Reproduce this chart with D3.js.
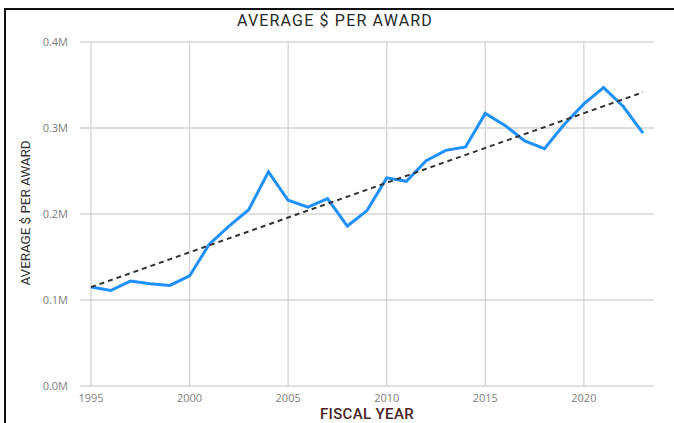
<!DOCTYPE html>
<html><head><meta charset="utf-8">
<script src="https://cdn.jsdelivr.net/npm/d3@7"></script>
<style>
body{margin:0;background:#fff;}
svg{display:block;}
</style></head>
<body><svg id="c" width="674" height="423"></svg>
<script>
const years = [1995,1996,1997,1998,1999,2000,2001,2002,2003,2004,2005,2006,2007,2008,2009,2010,2011,2012,2013,2014,2015,2016,2017,2018,2019,2020,2021,2022,2023];
const avgPerAward = [0.115,0.111,0.122,0.119,0.117,0.128,0.165,0.186,0.205,0.249,0.216,0.208,0.218,0.186,0.204,0.242,0.238,0.262,0.274,0.278,0.317,0.303,0.285,0.276,0.304,0.328,0.347,0.325,0.294];
const trendYears = [1995, 2023];
const trendValues = [0.115, 0.3415];
const yTicks = [0, 0.1, 0.2, 0.3, 0.4];
const xTicks = [1995, 2000, 2005, 2010, 2015, 2020];
const title = "AVERAGE $ PER AWARD";
const xTitle = "FISCAL YEAR";
const yTitle = "AVERAGE $ PER AWARD";

const svg = d3.select("#c");
svg.append("line").attr("x1",4).attr("x2",674).attr("y1",9).attr("y2",9).attr("stroke","#111").attr("stroke-width",2);
svg.append("line").attr("x1",5).attr("x2",5).attr("y1",8).attr("y2",423).attr("stroke","#111").attr("stroke-width",2);

const x = d3.scaleLinear().domain([1995,2023]).range([91,643]);
const y = d3.scaleLinear().domain([0,0.4]).range([386,42]);

const g = svg.append("g");
g.selectAll(".hg").data(yTicks).join("line")
  .attr("x1",80).attr("x2",654).attr("y1",d=>y(d)).attr("y2",d=>y(d))
  .attr("stroke","#d4d4d4").attr("stroke-width",1.3);
g.selectAll(".vg").data(xTicks).join("line")
  .attr("x1",d=>x(d)).attr("x2",d=>x(d)).attr("y1",42).attr("y2",386)
  .attr("stroke","#d4d4d4").attr("stroke-width",1.3);

const tickFont = "'Open Sans', 'Noto Sans', sans-serif";
g.selectAll(".yl").data(yTicks).join("text")
  .attr("x",68).attr("y",d=>y(d)).attr("dy","0.35em").attr("text-anchor","end")
  .attr("font-family",tickFont).attr("font-size",11).attr("fill","#808080")
  .text(d=>d3.format(".1f")(d)+"M");
g.selectAll(".xl").data(xTicks).join("text")
  .attr("x",d=>x(d)).attr("y",398).attr("dy","0.35em").attr("text-anchor","middle")
  .attr("font-family",tickFont).attr("font-size",11).attr("fill","#808080")
  .text(d=>d);

function fit(sel, w){ const n=sel.node(); const l=n.getComputedTextLength(); const cnt=n.textContent.length; sel.attr("letter-spacing",((w-l)/cnt).toFixed(2)); }

const titleFont = "Roboto, 'DejaVu Sans', sans-serif";
const t1 = svg.append("text").attr("x",335).attr("y",20).attr("dy","0.35em").attr("text-anchor","middle")
  .attr("font-family",titleFont).attr("font-size",16).attr("font-weight",400).attr("fill","#2a2a2a")
  .text(title);
fit(t1,196);
const t2 = svg.append("text").attr("x",367).attr("y",414).attr("dy","0.35em").attr("text-anchor","middle")
  .attr("font-family",titleFont).attr("font-size",15).attr("font-weight",500).attr("fill","#4a2424")
  .text(xTitle);
fit(t2,94);
const t3 = svg.append("text").attr("transform","translate(25,213) rotate(-90)").attr("dy","0.35em").attr("text-anchor","middle")
  .attr("font-family",titleFont).attr("font-size",13.5).attr("fill","#333")
  .text(yTitle);
fit(t3,145);

const line = d3.line().x((d,i)=>x(years[i])).y(d=>y(d));
svg.append("path").datum(avgPerAward).attr("d",line).attr("fill","none")
  .attr("stroke","#1e90ff").attr("stroke-width",3).attr("stroke-linejoin","miter");

const tline = d3.line().x((d,i)=>x(trendYears[i])).y(d=>y(d));
svg.append("path").datum(trendValues).attr("d",tline).attr("fill","none")
  .attr("stroke","#333").attr("stroke-width",2).attr("stroke-dasharray","5,4");
</script></body></html>
